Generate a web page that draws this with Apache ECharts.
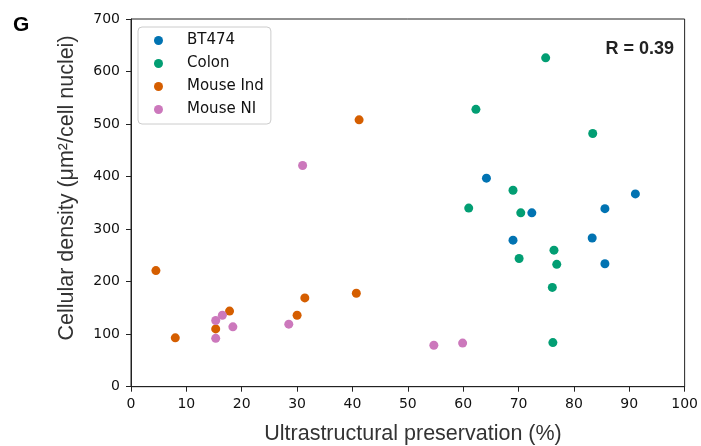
<!DOCTYPE html>
<html>
<head>
<meta charset="utf-8">
<script src="https://cdn.jsdelivr.net/npm/echarts@6/dist/echarts.min.js"></script>
<style>
html,body{margin:0;padding:0;background:#fff;}
#c{width:701px;height:446px;}
</style>
</head>
<body>
<div id="c"></div>
<script>
var seriesNames = ['BT474', 'Colon', 'Mouse Ind', 'Mouse NI'];
var bt474X = [64.2, 72.4, 69.0, 91.1, 85.6, 83.3, 85.6];
var bt474Y = [397, 331, 279, 367, 339, 283, 234];
var colonX = [74.9, 62.3, 83.4, 69.0, 61.0, 70.4, 76.4, 70.1, 76.9, 76.1, 76.2];
var colonY = [626, 528, 482, 374, 340, 331, 260, 244, 233, 189, 84];
var mouseIndX = [41.2, 4.5, 40.7, 31.4, 17.8, 30.0, 15.3, 8.0];
var mouseIndY = [508, 221, 178, 169, 144, 136, 110, 93];
var mouseNIX = [31.0, 16.5, 15.3, 28.5, 18.4, 15.3, 54.7, 59.9];
var mouseNIY = [421, 136, 126, 119, 114, 92, 79, 83];
var xTicks = [0, 10, 20, 30, 40, 50, 60, 70, 80, 90, 100];
var yTicks = [0, 100, 200, 300, 400, 500, 600, 700];
var colors = ['#0173b2', '#029e73', '#d55e00', '#cc78bc'];

function pairs(xs, ys) { return xs.map(function (x, i) { return [x, ys[i]]; }); }
var allData = [pairs(bt474X, bt474Y), pairs(colonX, colonY), pairs(mouseIndX, mouseIndY), pairs(mouseNIX, mouseNIY)];

var chart = echarts.init(document.getElementById('c'), null, {renderer: 'canvas'});
var tickFont = {fontFamily: 'DejaVu Sans', fontSize: 14, color: '#111'};
chart.setOption({
  animation: false,
  backgroundColor: '#fff',
  color: colors,
  grid: {left: 131, right: 9, top: 19, bottom: 59.3, show: true, borderColor: '#222', borderWidth: 1, backgroundColor: 'transparent'},
  legend: {
    orient: 'vertical', left: 138, top: 27,
    data: seriesNames, icon: 'circle', itemWidth: 9, itemHeight: 9, itemGap: 8,
    padding: [6, 7, 7, 16],
    borderColor: '#cccccc', borderWidth: 1, borderRadius: 4, backgroundColor: '#fff',
    textStyle: {fontFamily: 'DejaVu Sans', fontSize: 15, color: '#111', lineHeight: 14, padding: [0, 0, 0, 19]}
  },
  xAxis: {
    type: 'value', min: xTicks[0], max: xTicks[xTicks.length - 1], interval: 10,
    splitLine: {show: false},
    axisLine: {show: true, onZero: false, lineStyle: {color: '#222', width: 1}},
    axisTick: {show: true, length: 5, lineStyle: {color: '#222'}},
    axisLabel: Object.assign({margin: 11, showMaxLabel: true, showMinLabel: true}, tickFont)
  },
  yAxis: {
    type: 'value', min: yTicks[0], max: yTicks[yTicks.length - 1], interval: 100,
    splitLine: {show: false},
    axisLine: {show: true, onZero: false, lineStyle: {color: '#222', width: 1}},
    axisTick: {show: true, length: 5, lineStyle: {color: '#222'}},
    axisLabel: Object.assign({margin: 11}, tickFont)
  },
  graphic: [
    {type: 'text', left: 13, top: 15, style: {text: 'G', font: 'bold 21px "Liberation Sans", Arial', fill: '#000'}},
    {type: 'text', x: 674, y: 49, style: {text: 'R = 0.39', font: 'bold 18px "Liberation Sans", Arial', fill: '#222', align: 'right', verticalAlign: 'middle'}},
    {type: 'text', x: 413, y: 434, style: {text: 'Ultrastructural preservation (%)', font: '21.5px "Liberation Sans", Arial', fill: '#333', align: 'center', verticalAlign: 'middle'}},
    {type: 'text', x: 67, y: 188, rotation: Math.PI / 2, style: {text: 'Cellular density (μm²/cell nuclei)', font: '21.5px "Liberation Sans", Arial', fill: '#333', align: 'center', verticalAlign: 'middle'}}
  ],
  series: seriesNames.map(function (n, i) {
    return {name: n, type: 'scatter', data: allData[i], symbol: 'circle', symbolSize: 9,
      itemStyle: {color: colors[i], opacity: 1}};
  })
});
</script>
</body>
</html>
